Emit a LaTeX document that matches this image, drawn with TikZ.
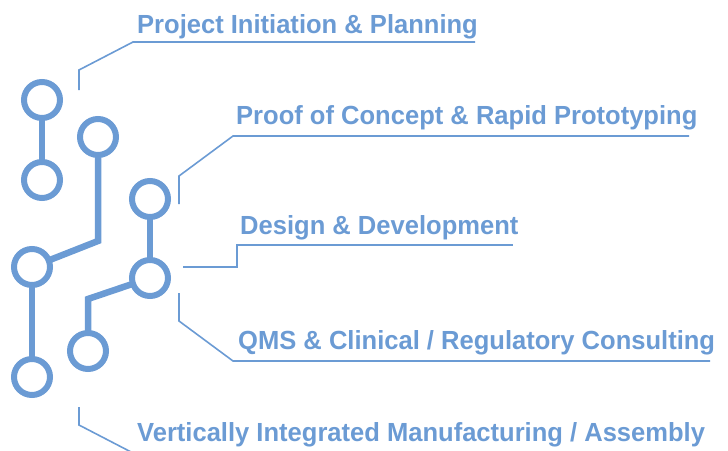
\documentclass[tikz,border=0pt]{standalone}
\usepackage{fontspec}
\newfontfamily\lbl[FakeStretch=0.975]{Liberation Sans}
\definecolor{cblue}{RGB}{107,155,212}
\begin{document}
\begin{tikzpicture}[x=1pt,y=-1pt,
  dot/.style={circle,draw=cblue,line width=6pt,fill=white,minimum size=36pt,inner sep=0pt},
  trace/.style={draw=cblue,line width=6.5pt},
  conn/.style={draw=cblue,line width=1.6pt},
  lab/.style={anchor=base west,inner sep=0pt,text=cblue,font=\lbl\bfseries\fontsize{26.2}{30}\selectfont}]
\useasboundingbox (0,0) rectangle (728,450);
\clip (0,0) rectangle (728,450);
% trace corners
\coordinate (k1) at (98,241);
\coordinate (k2) at (88,299);
% traces
\draw[trace] (42,100) -- (42,180);
\draw[trace] (98,137) -- (k1) -- (32,267);
\draw[trace] (32,267) -- (32,377);
\draw[trace] (150,199) -- (150,278);
\draw[trace] (150,278) -- (k2) -- (88,351);
% circles
\node[dot] (c1) at (42,100) {};
\node[dot] (c2) at (42,180) {};
\node[dot] (c3) at (98,137) {};
\node[dot] (c4) at (150,199) {};
\node[dot] (c5) at (32,267) {};
\node[dot] (c6) at (32,377) {};
\node[dot] (c7) at (150,278) {};
\node[dot] (c8) at (88,351) {};
% labels
\node[lab] (t1) at (137,33) {Project Initiation \& Planning};
\node[lab] (t2) at (236,124) {Proof of Concept \& Rapid Prototyping};
\node[lab] (t3) at (240,234) {Design \& Development};
\node[lab] (t4) at (238,349) {QMS \& Clinical / Regulatory Consulting};
\node[lab] (t5) at (137,441) {Vertically Integrated Manufacturing / Assembly};
% connector coordinates
\coordinate (a1) at (79,90);  \coordinate (a2) at (79,70);  \coordinate (a3) at (133,42);  \coordinate (a4) at (475,42);
\coordinate (b1) at (179,204); \coordinate (b2) at (179,176); \coordinate (b3) at (233,136); \coordinate (b4) at (689,136);
\coordinate (d1) at (183,267); \coordinate (d2) at (237,267); \coordinate (d3) at (237,245); \coordinate (d4) at (513,245);
\coordinate (e1) at (179,293); \coordinate (e2) at (179,321); \coordinate (e3) at (233,361); \coordinate (e4) at (710,361);
\coordinate (f1) at (79,407); \coordinate (f2) at (79,425); \coordinate (f3) at (133,453); \coordinate (f4) at (710,453);
\draw[conn] (a1) -- (a2) -- (a3) -- (a4);
\draw[conn] (b1) -- (b2) -- (b3) -- (b4);
\draw[conn] (d1) -- (d2) -- (d3) -- (d4);
\draw[conn] (e1) -- (e2) -- (e3) -- (e4);
\draw[conn] (f1) -- (f2) -- (f3) -- (f4);
\end{tikzpicture}
\end{document}
